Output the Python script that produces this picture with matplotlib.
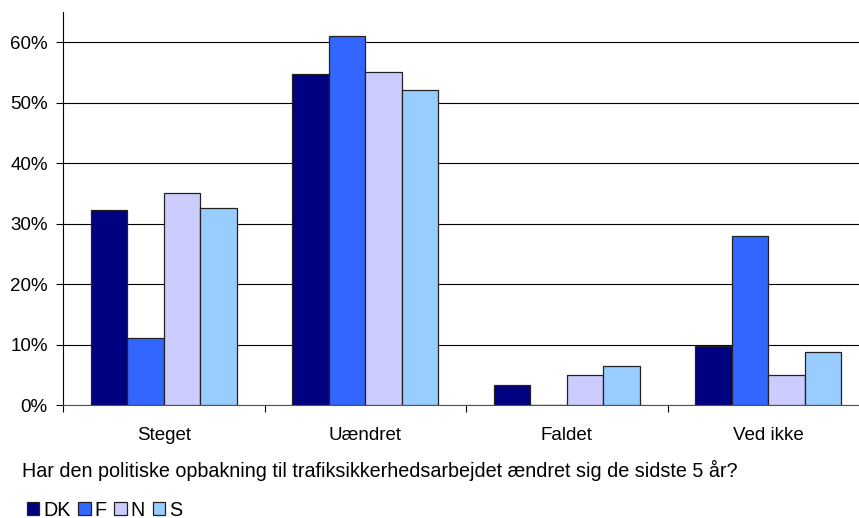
import matplotlib.pyplot as plt
import numpy as np
from matplotlib.ticker import PercentFormatter

plt.rcParams['font.family'] = ['Liberation Sans', 'DejaVu Sans']

# Data (fractions).
categories = ['Steget', 'Uændret', 'Faldet', 'Ved ikke']
series = ['DK', 'F', 'N', 'S']
dk = [0.322, 0.548, 0.033, 0.097]
f = [0.111, 0.610, 0.0, 0.279]
n = [0.350, 0.550, 0.050, 0.050]
s = [0.326, 0.521, 0.065, 0.087]
colors = ['#000080', '#3366FF', '#CCCCFF', '#99CCFF']
question = 'Har den politiske opbakning til trafiksikkerhedsarbejdet ændret sig de sidste 5 år?'

fs = 13.5

fig = plt.figure(figsize=(8.59, 5.18), dpi=100)
# axes runs slightly past the right edge, as in the reference
ax = fig.add_axes([63/859, 1-405/518, 806/859, 393/518])

x = np.arange(len(categories))
width = 0.181
for i, (vals, name) in enumerate(zip([dk, f, n, s], series)):
    ax.bar(x + (i - 1.5)*width, vals, width, color=colors[i],
           edgecolor='#222222', linewidth=0.9, label=name, zorder=3)

ax.set_xlim(-0.5, len(categories) - 0.5)
ax.set_ylim(0, 0.65)
ax.set_yticks(np.arange(0, 0.61, 0.1))
ax.yaxis.set_major_formatter(PercentFormatter(1.0, decimals=0))
ax.yaxis.grid(True, color='black', linewidth=0.8, zorder=0)

# category labels centered, ticks at the boundaries
ax.set_xticks(x)
ax.set_xticklabels(categories, fontsize=fs)
ax.tick_params(axis='x', which='major', length=0, pad=16)
ax.set_xticks(np.arange(-0.5, len(categories)), minor=True)
ax.tick_params(axis='x', which='minor', length=5, width=0.8, direction='out')
ax.tick_params(axis='y', labelsize=fs, length=5, width=0.8, direction='out', pad=6)

for side in ['top', 'right']:
    ax.spines[side].set_visible(False)
ax.spines['left'].set_linewidth(0.8)
ax.spines['bottom'].set_linewidth(0.8)
ax.spines['bottom'].set_color('#555555')

fig.text(22/859, 1-470/518, question, fontsize=14.2, va='center', ha='left')

fig.legend(loc='center left', bbox_to_anchor=(27/859, 1-510/518), ncol=4,
           frameon=False, fontsize=14.2, handlelength=0.62, handleheight=0.62,
           handletextpad=0.2, columnspacing=0.4, borderpad=0, borderaxespad=0)

fig.savefig('out.png', dpi=100)
